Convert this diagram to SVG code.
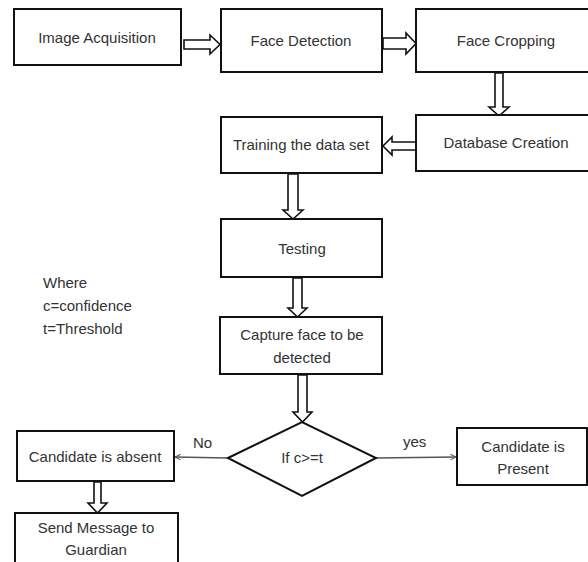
<svg xmlns="http://www.w3.org/2000/svg" width="588" height="562" viewBox="0 0 588 562">
<defs>
<style>
.box{fill:#fff;stroke:#111;stroke-width:2}
.t{font-family:"Liberation Sans",Arial,sans-serif;font-size:15px;fill:#333;text-anchor:middle}
.tl{font-family:"Liberation Sans",Arial,sans-serif;font-size:15px;fill:#333}
.ha{fill:#fff;stroke:#111;stroke-width:1.6;stroke-linejoin:miter}
.thin{fill:none;stroke:#555;stroke-width:1.3}
</style>
<marker id="open" viewBox="0 0 10 10" refX="9" refY="5" markerWidth="7" markerHeight="7" orient="auto" markerUnits="userSpaceOnUse">
<path d="M1,1 L9,5 L1,9" fill="none" stroke="#555" stroke-width="1.5"/>
</marker>
</defs>
<rect width="588" height="562" fill="#fff"/>
<g id="connectors">
<polygon class="ha" points="184,40 210,40 210,35 220,44.5 210,54 210,49 184,49"/>
<polygon class="ha" points="383,38 406,38 406,33 416,43.5 406,54 406,49 383,49"/>
<polygon class="ha" points="495,73 503,73 503,107 509,107 499,116 489,107 495,107"/>
<polygon class="ha" points="416,142 392,142 392,137 383,146 392,155 392,150 416,150"/>
<polygon class="ha" points="288,174 298,174 298,210 303,210 293,219 283,210 288,210"/>
<polygon class="ha" points="293,278 302,278 302,308 307,308 297.5,317 288,308 293,308"/>
<polygon class="ha" points="298,375 307,375 307,412 312,412 302.5,422 293,412 298,412"/>
<polygon class="ha" points="94,482 101,482 101,503 107,503 97.5,513 88,503 94,503"/>
<line class="thin" x1="228" y1="458" x2="175" y2="457" marker-end="url(#open)"/>
<line class="thin" x1="376" y1="458" x2="456" y2="457" marker-end="url(#open)"/>
<text class="tl" x="193" y="448">No</text>
<text class="tl" x="403" y="447">yes</text>
</g>
<g id="n1"><rect class="box" x="14" y="9" width="167" height="56"/><text class="t" x="97" y="43">Image Acquisition</text></g>
<g id="n2"><rect class="box" x="221" y="9" width="161" height="63"/><text class="t" x="301" y="46">Face Detection</text></g>
<g id="n3"><rect class="box" x="416" y="9" width="174" height="63"/><text class="t" x="506" y="46">Face Cropping</text></g>
<g id="n4"><rect class="box" x="416" y="115" width="174" height="56"/><text class="t" x="506" y="148">Database Creation</text></g>
<g id="n5"><rect class="box" x="221" y="117" width="161" height="56"/><text class="t" x="301" y="150">Training the data set</text></g>
<g id="n6"><rect class="box" x="221" y="219" width="161" height="58"/><text class="t" x="302" y="254">Testing</text></g>
<g id="n7"><rect class="box" x="220" y="317" width="162" height="57"/><text class="t" x="302" y="340">Capture face to be</text><text class="t" x="302" y="363">detected</text></g>
<g id="n8"><polygon class="box" points="228,458 302,422 376,458 302,496"/><text class="t" x="302" y="463">If c&gt;=t</text></g>
<g id="n9"><rect class="box" x="457" y="428" width="130" height="57"/><text class="t" x="523" y="452">Candidate is</text><text class="t" x="523" y="474">Present</text></g>
<g id="n10"><rect class="box" x="17" y="431" width="157" height="50"/><text class="t" x="95" y="462">Candidate is absent</text></g>
<g id="n11"><rect class="box" x="15" y="513" width="163" height="55"/><text class="t" x="96" y="533">Send Message to</text><text class="t" x="96" y="555">Guardian</text></g>
<g id="legend"><text class="tl" x="43" y="288">Where</text><text class="tl" x="43" y="311">c=confidence</text><text class="tl" x="43" y="334">t=Threshold</text></g>
</svg>
